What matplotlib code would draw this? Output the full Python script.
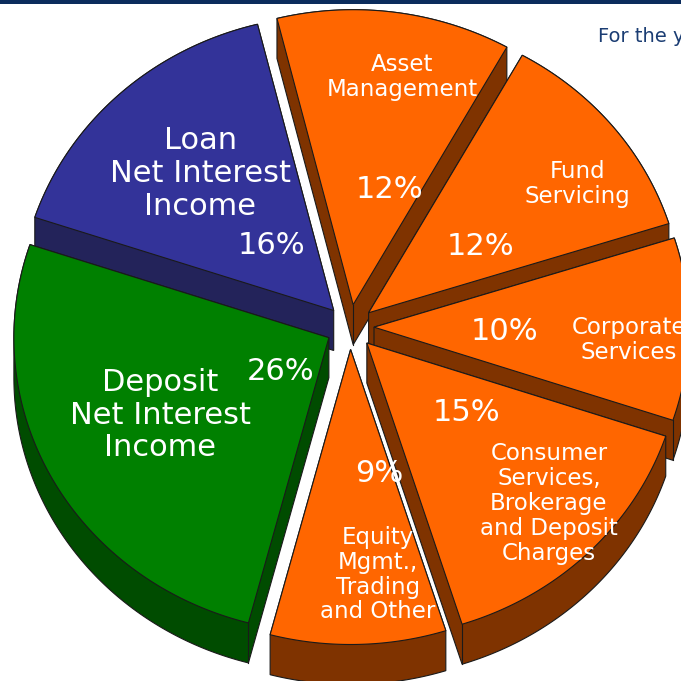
import numpy as np
import matplotlib
matplotlib.use("Agg")
import matplotlib.pyplot as plt
from matplotlib.patches import Polygon, Rectangle

# Revenue mix, listed clockwise from twelve o'clock
segments = [
    "Asset\nManagement",
    "Fund\nServicing",
    "Corporate\nServices",
    "Consumer\nServices,\nBrokerage\nand Deposit\nCharges",
    "Equity\nMgmt.,\nTrading\nand Other",
    "Deposit\nNet Interest\nIncome",
    "Loan\nNet Interest\nIncome",
]
shares = [12, 12, 10, 15, 9, 26, 16]
top_colors = ["#ff6600", "#ff6600", "#ff6600", "#ff6600", "#ff6600", "#008000", "#333399"]
side_colors = ["#7f3300", "#7f3300", "#7f3300", "#7f3300", "#7f3300", "#004c00", "#23235a"]
caption = "For the year"

# ---- layout (pixel space, y grows downward) ----
W = H = 681
cx, cy = 350.0, 327.0          # pie centre
rx, ry = 315.0, 295.0          # top-face radii (slightly tilted view)
depth = 40.0                   # thickness of the extruded pie
ex, ey = 24.0, 22.5            # explode distance for every slice
start = -14.0                  # first slice edge, degrees clockwise from 12 o'clock

# label anchors relative to each slice tip: (fraction of radius, angle clockwise from top)
name_pos = [(0.787, 11.4), (0.793, 56.6), (0.811, 93.0), (0.793, 133.2),
            (0.769, 173.5), (0.597, 243.9), (0.630, 317.7)]
pct_pos = [(0.406, 16.7), (0.420, 57.4), (0.416, 92.2), (0.394, 126.9),
           (0.431, 168.0), (0.191, 232.7), (0.298, 318.1)]
name_size = [16.5, 16.5, 16.5, 16.5, 16.5, 22, 22]
name_gap = [25, 25, 25, 25, 24.7, 32.5, 33]
pct_size = 22
edge_kw = dict(edgecolor="#1a1a1a", linewidth=0.8)


def hull(points):
    pts = sorted(set((round(float(x), 6), round(float(y), 6)) for x, y in points))

    def cross(o, a, b):
        return (a[0] - o[0]) * (b[1] - o[1]) - (a[1] - o[1]) * (b[0] - o[0])

    lower, upper = [], []
    for p in pts:
        while len(lower) >= 2 and cross(lower[-2], lower[-1], p) <= 0:
            lower.pop()
        lower.append(p)
    for p in reversed(pts):
        while len(upper) >= 2 and cross(upper[-2], upper[-1], p) <= 0:
            upper.pop()
        upper.append(p)
    return np.array(lower[:-1] + upper[:-1])


fig = plt.figure(figsize=(W / 100, H / 100), dpi=100)
ax = fig.add_axes([0, 0, 1, 1])
ax.set_xlim(0, W)
ax.set_ylim(H, 0)
ax.axis("off")

# thin banner along the top edge
ax.add_patch(Rectangle((0, 0), W, 3.5, facecolor="#0b2c5c", edgecolor="none", zorder=1))
ax.text(598, 37, caption, ha="left", va="center", fontsize=14, color="#1b3d73",
        family="DejaVu Sans", zorder=10)

bounds = start + 3.6 * np.concatenate([[0], np.cumsum(shares)])
mids = (bounds[:-1] + bounds[1:]) / 2
order = np.argsort(-np.cos(np.radians(mids)))

tips = []
for i in range(len(shares)):
    m = np.radians(mids[i])
    tips.append((cx + ex * np.sin(m), cy - ey * np.cos(m)))

z = 2
for i in order:
    tx, ty = tips[i]
    th = np.radians(np.linspace(bounds[i], bounds[i + 1], 120))
    arc = np.column_stack([tx + rx * np.sin(th), ty - ry * np.cos(th)])
    top = np.vstack([[tx, ty], arc])
    bottom = top + [0, depth]

    # side walls: silhouette of the extruded wedge
    ax.add_patch(Polygon(hull(np.vstack([top, bottom])), closed=True,
                         facecolor=side_colors[i], zorder=z, **edge_kw))

    # vertical creases where two visible walls meet
    centroid = top.mean(axis=0)
    n = len(top)
    vis = []
    for k in range(n):
        a, b = top[k], top[(k + 1) % n]
        d = b - a
        nrm = np.array([d[1], -d[0]])
        if np.dot(nrm, (a + b) / 2 - centroid) < 0:
            nrm = -nrm
        vis.append(nrm[1] > 1e-9)
    for k in (0, 1, n - 1):
        if vis[k] and vis[k - 1]:
            p = top[k]
            ax.plot([p[0], p[0]], [p[1], p[1] + depth], color="#1a1a1a",
                    linewidth=0.8, zorder=z + 0.5)

    ax.add_patch(Polygon(top, closed=True, facecolor=top_colors[i], zorder=z + 1, **edge_kw))
    z += 2

# labels
for i in range(len(shares)):
    tx, ty = tips[i]
    r, a = name_pos[i]
    a = np.radians(a)
    lx, ly = tx + r * rx * np.sin(a), ty - r * ry * np.cos(a)
    lines = segments[i].split("\n")
    for j, line in enumerate(lines):
        yy = ly + (j - (len(lines) - 1) / 2) * name_gap[i]
        ax.text(lx, yy, line, ha="center", va="center", fontsize=name_size[i],
                color="white", family="DejaVu Sans", zorder=50)
    r, a = pct_pos[i]
    a = np.radians(a)
    px, py = tx + r * rx * np.sin(a), ty - r * ry * np.cos(a)
    ax.text(px, py, f"{shares[i]}%", ha="center", va="center", fontsize=pct_size,
            color="white", family="DejaVu Sans", zorder=50)

fig.savefig("out.png", dpi=100, facecolor="white")
